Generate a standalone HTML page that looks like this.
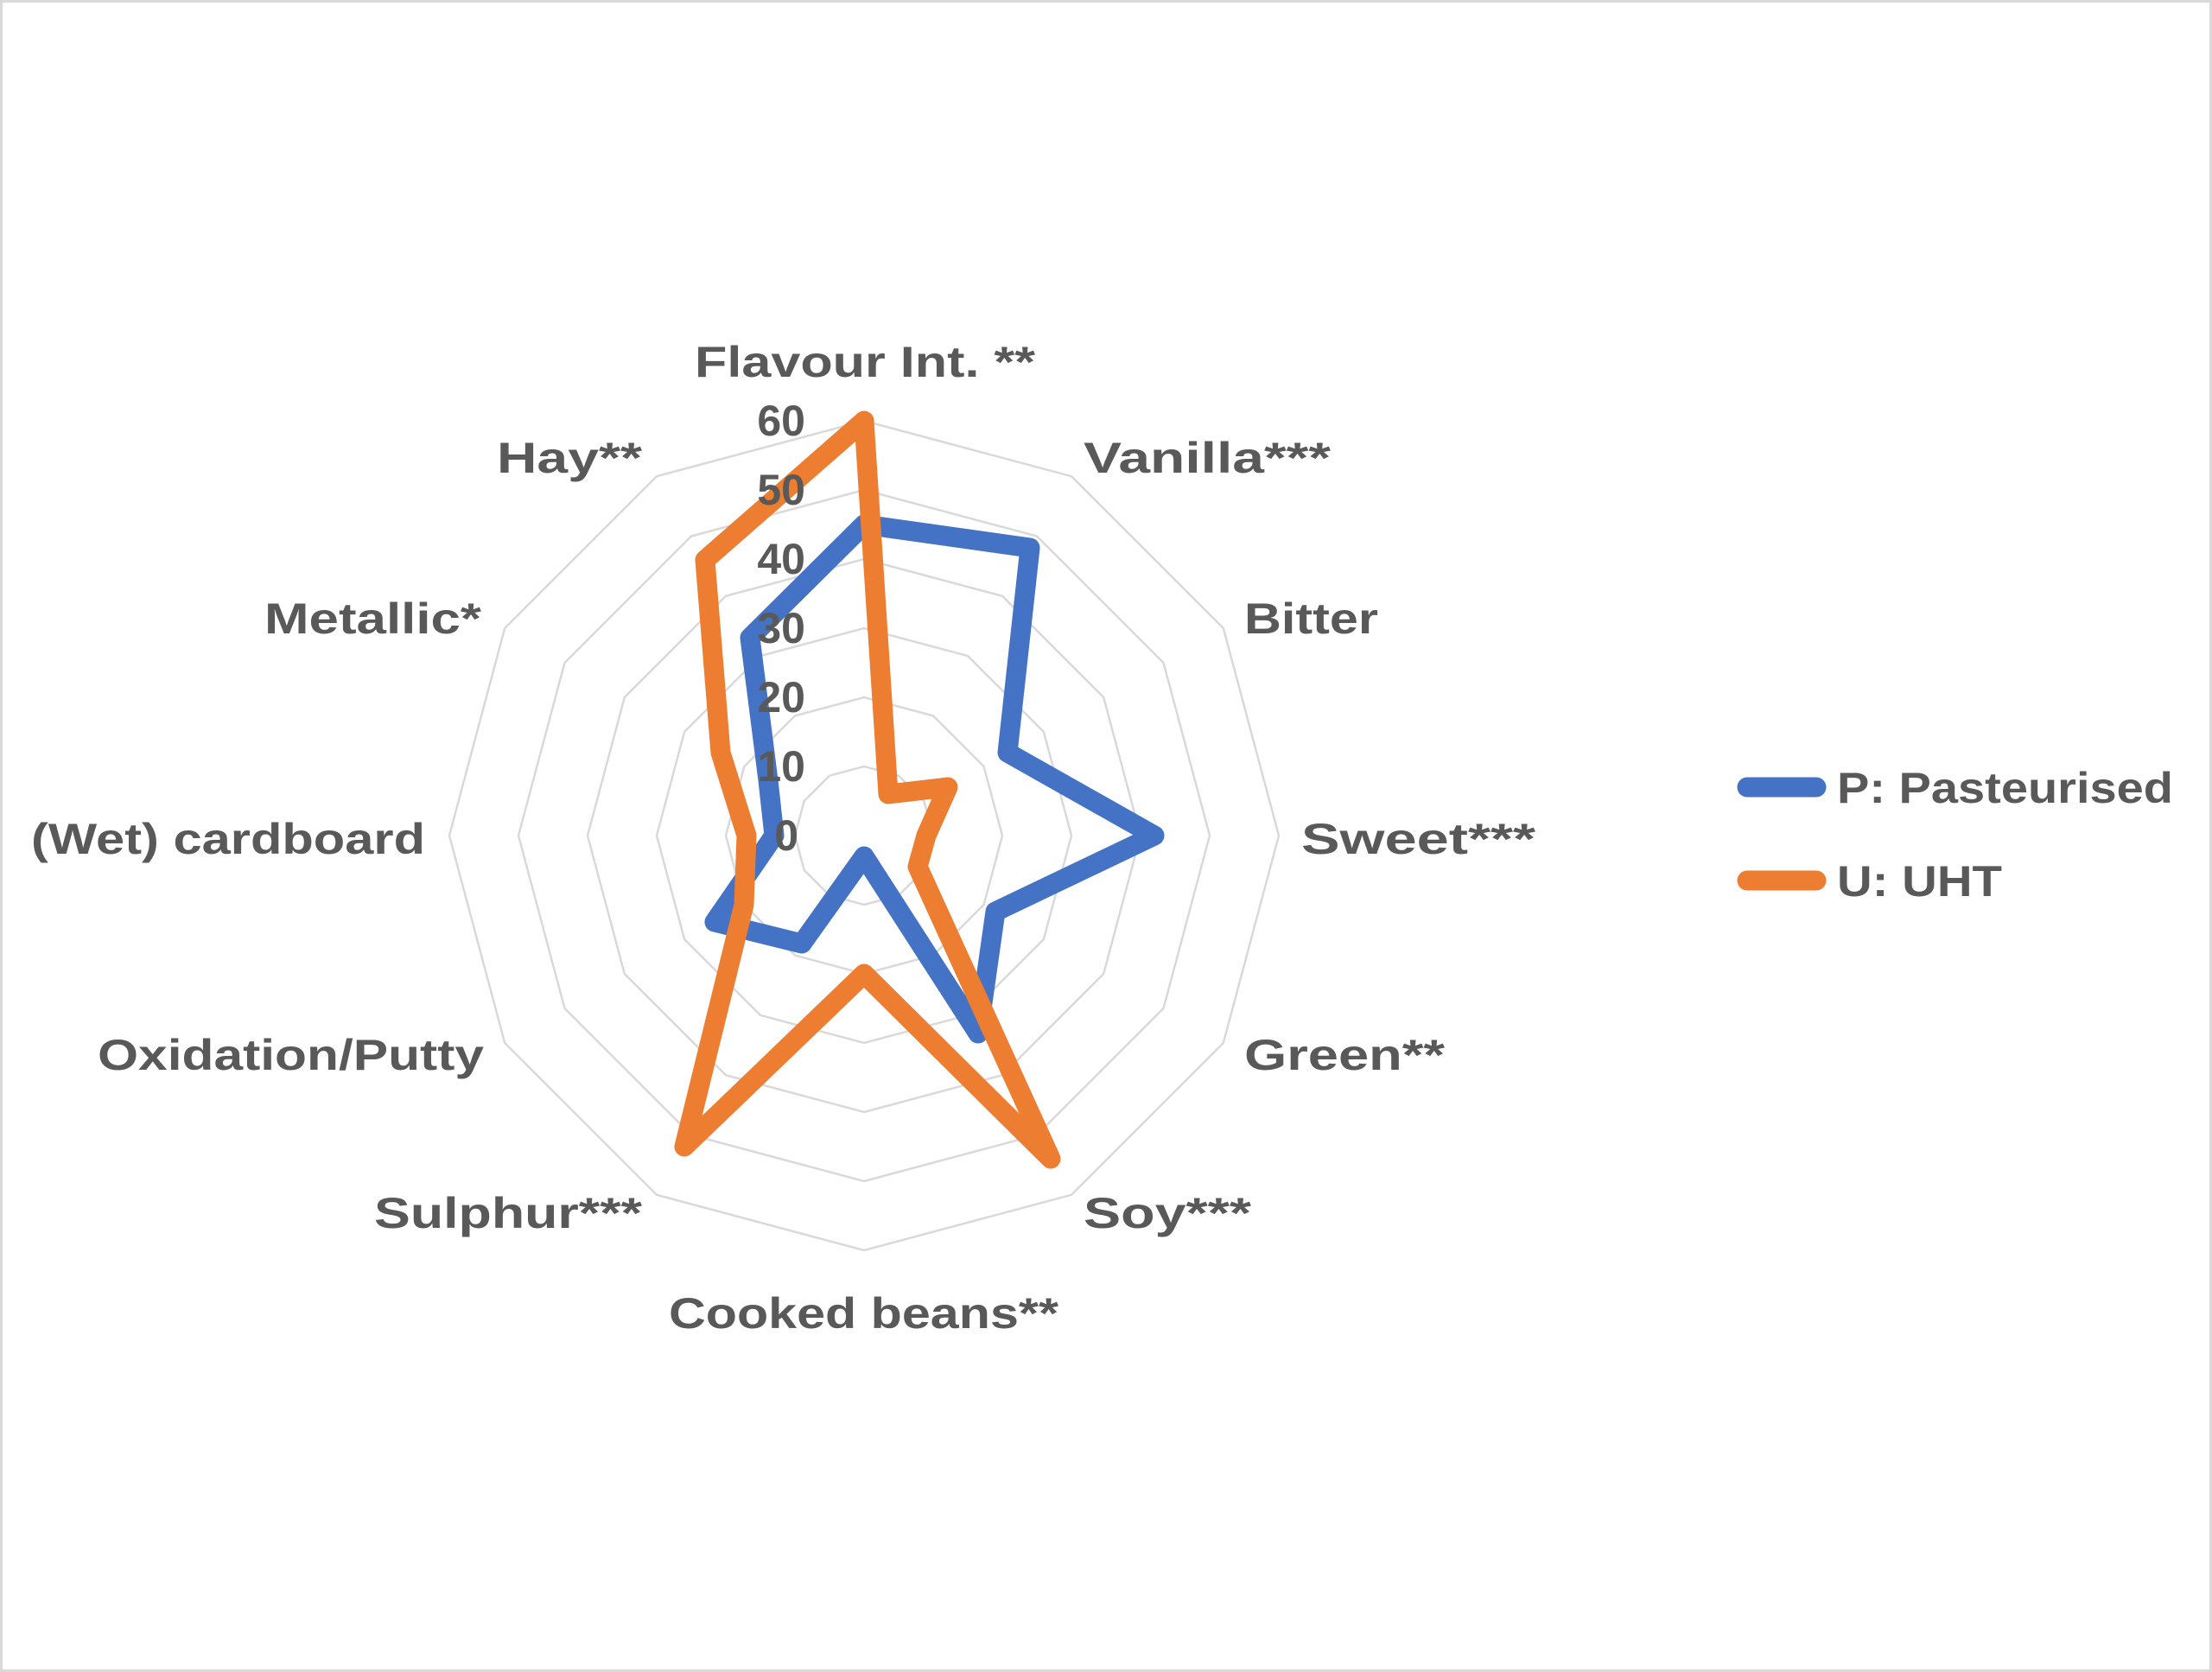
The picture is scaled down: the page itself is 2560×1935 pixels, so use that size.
<!DOCTYPE html>
<html><head><meta charset="utf-8"><style>
html,body{margin:0;padding:0;background:#fff;}
svg{display:block;}
text{font-family:"Liberation Sans",sans-serif;font-weight:bold;fill:#595959;font-size:50px;}
</style></head><body>
<svg width="2560" height="1935" viewBox="0 0 2560 1935" xmlns="http://www.w3.org/2000/svg">
<rect x="1.5" y="1.5" width="2557" height="1932" fill="#fff" stroke="#d9d9d9" stroke-width="3"/>
<defs>
<polygon id="ring" points="0,-80 40,-69.3 69.3,-40 80,0 69.3,40 40,69.3 0,80 -40,69.3 -69.3,40 -80,0 -69.3,-40 -40,-69.3"/>
</defs>
<g fill="none" stroke="#d9d9d9" stroke-width="2.5">
<use href="#ring" transform="translate(1000,967) scale(1)"/>
<use href="#ring" transform="translate(1000,967) scale(2)" style="stroke-width:1.25"/>
<use href="#ring" transform="translate(1000,967) scale(3)" style="stroke-width:0.833"/>
<use href="#ring" transform="translate(1000,967) scale(4)" style="stroke-width:0.625"/>
<use href="#ring" transform="translate(1000,967) scale(5)" style="stroke-width:0.5"/>
<use href="#ring" transform="translate(1000,967) scale(6)" style="stroke-width:0.4167"/>
</g>
<polygon fill="none" stroke="#4472c4" stroke-width="23" stroke-linejoin="round" points="1000,607 1192,634 1166,871 1336,967 1152,1055 1132,1196 1000,991 928,1092 827,1067 896,967 889,903 868,738"/>
<polygon fill="none" stroke="#ed7d31" stroke-width="23" stroke-linejoin="round" points="1000,487 1028,919 1097,911 1072,967 1062,1003 1216,1341 1000,1127 792,1327 861,1047 864,967 834,871 816,648"/>
<g text-anchor="end" style="font-size:52px">
<text x="932" y="504">60</text>
<text x="932" y="584">50</text>
<text x="932" y="664">40</text>
<text x="932" y="744">30</text>
<text x="932" y="824">20</text>
<text x="932" y="904">10</text>
<text x="924" y="984">0</text>
</g>
<text x="804" y="436" textLength="394" lengthAdjust="spacingAndGlyphs">Flavour Int. **</text>
<text x="1254" y="547" textLength="286" lengthAdjust="spacingAndGlyphs">Vanilla***</text>
<text x="1440" y="733" textLength="155" lengthAdjust="spacingAndGlyphs">Bitter</text>
<text x="1506" y="988" textLength="271" lengthAdjust="spacingAndGlyphs">Sweet***</text>
<text x="1440" y="1238" textLength="232" lengthAdjust="spacingAndGlyphs">Green**</text>
<text x="1254" y="1421" textLength="194" lengthAdjust="spacingAndGlyphs">Soy***</text>
<text x="774" y="1537" textLength="451" lengthAdjust="spacingAndGlyphs">Cooked beans**</text>
<text x="433" y="1421" textLength="310" lengthAdjust="spacingAndGlyphs">Sulphur***</text>
<text x="113" y="1238" textLength="447" lengthAdjust="spacingAndGlyphs">Oxidation/Putty</text>
<text x="36" y="988" textLength="456" lengthAdjust="spacingAndGlyphs">(Wet) cardboard</text>
<text x="306" y="733" textLength="251" lengthAdjust="spacingAndGlyphs">Metallic*</text>
<text x="575" y="547" textLength="168" lengthAdjust="spacingAndGlyphs">Hay**</text>
<line x1="2022" y1="911" x2="2102" y2="911" stroke="#4472c4" stroke-width="23" stroke-linecap="round"/>
<line x1="2022" y1="1019" x2="2102" y2="1019" stroke="#ed7d31" stroke-width="23" stroke-linecap="round"/>
<text x="2126" y="929" textLength="389" lengthAdjust="spacingAndGlyphs">P: Pasteurised</text>
<text x="2126" y="1037" textLength="191" lengthAdjust="spacingAndGlyphs">U: UHT</text>
</svg>
</body></html>
